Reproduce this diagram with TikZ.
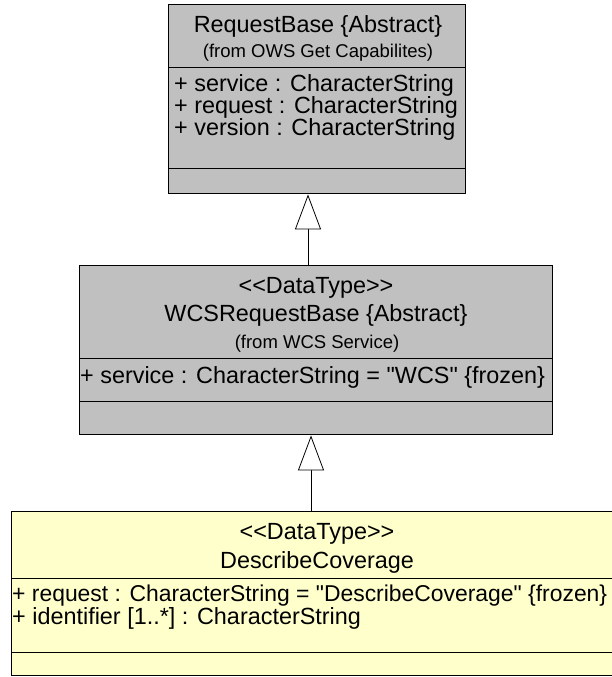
\documentclass[tikz,border=0pt]{standalone}
\usepackage{fontspec}
\newfontfamily\umlfont{Liberation Sans}
\usetikzlibrary{arrows.meta}
\definecolor{umlgray}{HTML}{C0C0C0}
\definecolor{umlyellow}{HTML}{FFFFCC}
\begin{document}
\begin{tikzpicture}[x=1pt, y=-1pt,
        classbox/.style = {draw, line width=1.4pt, inner sep=0pt, anchor=north west},
        divider/.style = {line width=0.9pt},
        arrow/.style = {line width=0.8pt, -{Triangle[open, fill=white, length=35pt, width=26pt]}},
        title/.style = {anchor=base, inner sep=0pt, font=\umlfont\fontsize{23.4}{23}\selectfont},
        origin/.style = {anchor=base, inner sep=0pt, font=\umlfont\fontsize{18.5}{18.5}\selectfont},
        attr/.style = {anchor=base west, inner sep=0pt, font=\umlfont\fontsize{23.4}{23}\selectfont}]
    \useasboundingbox (0,0) rectangle (612,677);
    \clip (0,0) rectangle (612,677);

    \node[classbox, fill=umlgray, minimum width=297pt, minimum height=189pt] 
        (reqbase) at (168,4) {};
    \node[classbox, fill=umlgray, minimum width=473pt, minimum height=169pt] 
        (wcsbase) at (79,265) {};
    \node[classbox, fill=umlyellow, minimum width=612pt, minimum height=164pt] 
        (describe) at (11,511) {};

    \draw[divider] (reqbase.west |- 0,67) -- (reqbase.east |- 0,67);
    \draw[divider] (reqbase.west |- 0,168) -- (reqbase.east |- 0,168);
    \draw[divider] (wcsbase.west |- 0,358) -- (wcsbase.east |- 0,358);
    \draw[divider] (wcsbase.west |- 0,401) -- (wcsbase.east |- 0,401);
    \draw[divider] (describe.west |- 0,578) -- (describe.east |- 0,578);
    \draw[divider] (describe.west |- 0,652) -- (describe.east |- 0,652);

    \node[title] (reqname) at (318,33) {RequestBase \{Abstract\}};
    \node[origin] (reqfrom) at (318,58) {(from OWS Get Capabilites)};
    \node[attr] (reqa1) at (174,92) {+ service : CharacterString};
    \node[attr] (reqa2) at (174,113.5) {+ request : CharacterString};
    \node[attr] (reqa3) at (174,135) {+ version : CharacterString};

    \node[title] (wcsstereo) at (316,293) {<<DataType>>};
    \node[title] (wcsname) at (316,321) {WCSRequestBase \{Abstract\}};
    \node[origin] (wcsfrom) at (317,348) {(from WCS Service)};
    \node[attr] (wcsa1) at (80,383) {+ service : CharacterString = "WCS" \{frozen\}};

    \node[title] (dcstereo) at (317,539) {<<DataType>>};
    \node[title] (dcname) at (317,568) {DescribeCoverage};
    \node[attr, font=\umlfont\fontsize{22.9}{23}\selectfont] (dca1) at (12,601)
        {+ request : CharacterString = "DescribeCoverage" \{frozen\}};
    \node[attr] (dca2) at (12,624) {+ identifier [1..*] : CharacterString};

    \coordinate (up1) at (308,0);
    \coordinate (up2) at (311,0);
    \draw[arrow] (wcsbase.north -| up1) -- (reqbase.south -| up1);
    \draw[arrow] (describe.north -| up2) -- (wcsbase.south -| up2);
\end{tikzpicture}
\end{document}
